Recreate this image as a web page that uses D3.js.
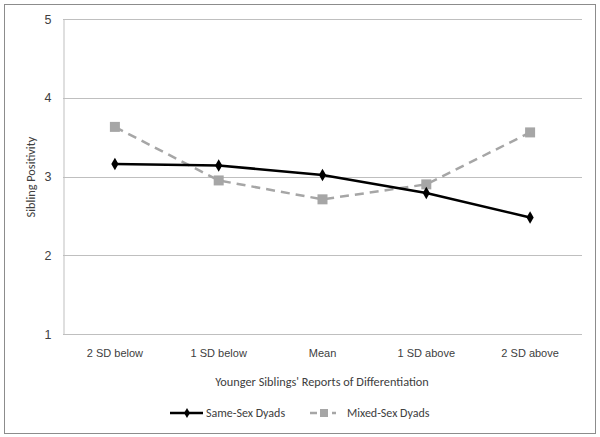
<!DOCTYPE html>
<html><head><meta charset="utf-8">
<script src="https://cdn.jsdelivr.net/npm/d3@7"></script>
<style>body{margin:0;background:#fff}svg{display:block;font-family:Carlito,"Open Sans","Liberation Sans",sans-serif}</style>
</head><body>
<svg id="c" width="600" height="437"></svg>
<script>
const categories = ["2 SD below","1 SD below","Mean","1 SD above","2 SD above"];
const sameSex = [3.16, 3.14, 3.02, 2.79, 2.48];
const mixedSex = [3.63, 2.95, 2.71, 2.90, 3.56];
const yTicks = [1,2,3,4,5];
const seriesNames = ["Same-Sex Dyads","Mixed-Sex Dyads"];

const svg = d3.select("#c");
const textColor = "#404040";
svg.append("rect").attr("x",4.5).attr("y",4.5).attr("width",591).attr("height",429)
  .attr("fill","#fff").attr("stroke","#8c8c8c").attr("stroke-width",1);

const m = {left:63, right:582, top:19, bottom:334};
const x = d3.scaleBand().domain(categories).range([m.left, m.right]);
const y = d3.scaleLinear().domain([1,5]).range([m.bottom, m.top]);

// gridlines
svg.append("g").selectAll("line").data(yTicks).join("line")
  .attr("x1",m.left).attr("x2",m.right)
  .attr("y1",d=>Math.round(y(d))+0.5).attr("y2",d=>Math.round(y(d))+0.5)
  .attr("stroke","#bfbfbf").attr("stroke-width",1);
// y axis
const ya = svg.append("g").attr("transform",`translate(${m.left+0.5},0)`)
  .call(d3.axisLeft(y).tickValues(yTicks).tickFormat(d3.format("d")).tickSize(0).tickPadding(12));
ya.select(".domain").attr("stroke","#bfbfbf");
ya.selectAll("text").attr("fill",textColor).style("font-size","12.5px");
// x axis labels
const xa = svg.append("g").attr("transform",`translate(0,${m.bottom})`)
  .call(d3.axisBottom(x).tickSize(0).tickPadding(15));
xa.select(".domain").remove();
xa.selectAll("text").attr("fill",textColor).style("font-size","11px");

svg.append("text").attr("x",322).attr("y",386).attr("text-anchor","middle")
  .attr("fill",textColor).style("font-size","12.3px").text("Younger Siblings' Reports of Differentiation");
svg.append("text").attr("transform","translate(35,177) rotate(-90)").attr("text-anchor","middle")
  .attr("fill",textColor).style("font-size","12.3px").text("Sibling Positivity");

const cx = d => x(d) + x.bandwidth()/2;
const line = d3.line().x((d,i)=>cx(categories[i])).y(d=>y(d));

// mixed
svg.append("path").datum(mixedSex).attr("d",line).attr("fill","none")
  .attr("stroke","#a6a6a6").attr("stroke-width",2.5).attr("stroke-dasharray","9,6");
svg.append("g").selectAll("rect").data(mixedSex).join("rect")
  .attr("x",(d,i)=>cx(categories[i])-5).attr("y",d=>y(d)-5).attr("width",10).attr("height",10)
  .attr("fill","#a6a6a6");
// same
svg.append("path").datum(sameSex).attr("d",line).attr("fill","none")
  .attr("stroke","#000").attr("stroke-width",2.5);
const diamond = d3.symbol().type(d3.symbolDiamond).size(45);
svg.append("g").selectAll("path").data(sameSex).join("path")
  .attr("transform",(d,i)=>`translate(${cx(categories[i])},${y(d)})`)
  .attr("d",diamond).attr("fill","#000");

// legend
const ly = 413;
const lg = svg.append("g");
lg.append("line").attr("x1",170).attr("x2",203).attr("y1",ly).attr("y2",ly).attr("stroke","#000").attr("stroke-width",2.5);
lg.append("path").attr("transform",`translate(187,${ly})`).attr("d",d3.symbol().type(d3.symbolDiamond).size(30)).attr("fill","#000");
lg.append("text").attr("x",206).attr("y",ly+4).attr("fill",textColor).style("font-size","12px").text(seriesNames[0]);
lg.append("line").attr("x1",310).attr("x2",336).attr("y1",ly).attr("y2",ly).attr("stroke","#a6a6a6").attr("stroke-width",2.5).attr("stroke-dasharray","7,4");
lg.append("rect").attr("x",320).attr("y",ly-4).attr("width",8).attr("height",8).attr("fill","#a6a6a6");
lg.append("text").attr("x",347).attr("y",ly+4).attr("fill",textColor).style("font-size","12px").text(seriesNames[1]);
</script>
</body></html>
